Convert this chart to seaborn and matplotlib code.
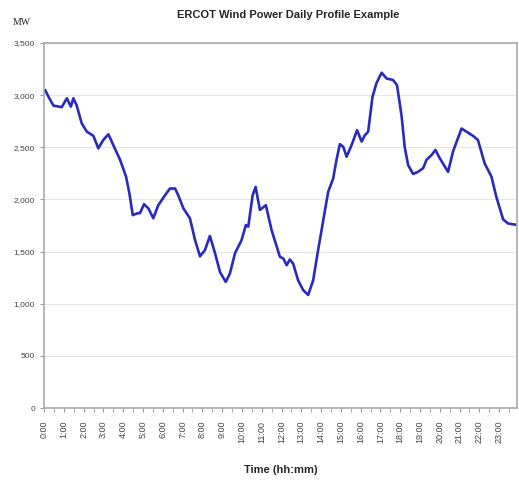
import pandas as pd
import numpy as np
import matplotlib
matplotlib.use("Agg")
import matplotlib.pyplot as plt
import seaborn as sns

# values (hour of day, MW)
hours = [0.05, 0.22, 0.47, 0.89, 1.15, 1.35, 1.48, 1.65, 1.90, 2.16, 2.49, 2.74,
         2.99, 3.25, 3.50, 3.84, 4.14, 4.31, 4.48, 4.68, 4.85, 5.05, 5.27, 5.52,
         5.77, 6.11, 6.36, 6.62, 6.78, 7.04, 7.37, 7.63, 7.88, 8.13, 8.38, 8.64,
         8.89, 9.18, 9.39, 9.65, 9.98, 10.20, 10.32, 10.54, 10.69, 10.91, 11.21,
         11.50, 11.92, 12.09, 12.26, 12.42, 12.59, 12.84, 13.10, 13.35, 13.60,
         13.85, 14.11, 14.36, 14.61, 14.78, 14.95, 15.12, 15.29, 15.54, 15.82,
         16.05, 16.21, 16.38, 16.60, 16.80, 17.06, 17.31, 17.64, 17.84, 18.07,
         18.23, 18.40, 18.65, 18.90, 19.16, 19.33, 19.58, 19.78, 20.00, 20.42,
         20.67, 21.10, 21.35, 21.68, 21.93, 22.27, 22.61, 22.86, 23.20, 23.45,
         23.94]
mw = [3050, 2985, 2900, 2885, 2970, 2890, 2970, 2900, 2730, 2650, 2610, 2490,
      2570, 2625, 2520, 2380, 2220, 2060, 1850, 1865, 1870, 1955, 1915, 1820,
      1945, 2040, 2105, 2105, 2040, 1915, 1820, 1610, 1455, 1515, 1650, 1485,
      1305, 1210, 1290, 1485, 1610, 1755, 1740, 2040, 2120, 1900, 1945,
      1705, 1450, 1435, 1370, 1425, 1385, 1225, 1130, 1085, 1225,
      1515, 1800, 2075, 2200, 2380, 2530, 2505, 2410, 2520, 2665,
      2555, 2615, 2650, 2985, 3115, 3215, 3160, 3145, 3095, 2800,
      2500, 2330, 2245, 2265, 2300, 2380, 2425, 2475, 2395, 2265,
      2460, 2680, 2650, 2610, 2570, 2345, 2220, 2025, 1810, 1770,
      1755]

hour_ticks = list(range(24))
hour_labels = [f"{h}:00" for h in hour_ticks]
mw_ticks = [0, 500, 1000, 1500, 2000, 2500, 3000, 3500]

df = pd.DataFrame({"hour": hours, "MW": mw})

sns.set_style("white")
plt.rcParams["font.family"] = ["Liberation Sans", "DejaVu Sans"]

fig = plt.figure(figsize=(5.19, 4.83), dpi=100)
ax = fig.add_axes([0.085, 0.155, 0.911, 0.756])

sns.lineplot(data=df, x="hour", y="MW", ax=ax, color="#2a2ac0", linewidth=1.9)

ax.set_xlim(0, 23.9)
ax.set_ylim(0, 3500)
ax.set_yticks(mw_ticks)
ax.set_yticklabels([f"{v:,}" for v in mw_ticks], fontsize=6, color="#444444")
ax.set_xticks(hour_ticks)
ax.set_xticklabels(hour_labels, rotation=90, fontsize=6.5, color="#444444")
ax.set_xticks(np.arange(0, 24, 0.5), minor=True)
ax.tick_params(axis="x", which="both", direction="out", length=3, color="#999999",
               bottom=True, pad=6)
ax.tick_params(axis="y", direction="out", length=3, color="#999999", left=True)

ax.yaxis.grid(True, color="#e6e6e6", linewidth=0.8)
for side in ["top", "right", "left", "bottom"]:
    ax.spines[side].set_color("#aaaaaa")
    ax.spines[side].set_linewidth(1.2)

ax.set_xlabel("Time (hh:mm)", fontsize=8, fontweight="bold", labelpad=16)
ax.set_ylabel("")
fig.text(0.555, 0.968, "ERCOT Wind Power Daily Profile Example", ha="center",
         va="center", fontsize=8, fontweight="bold")
fig.text(0.042, 0.953, "MW", ha="center", va="center", fontsize=7,
         family="Liberation Serif")

fig.savefig("out.png", dpi=100)
